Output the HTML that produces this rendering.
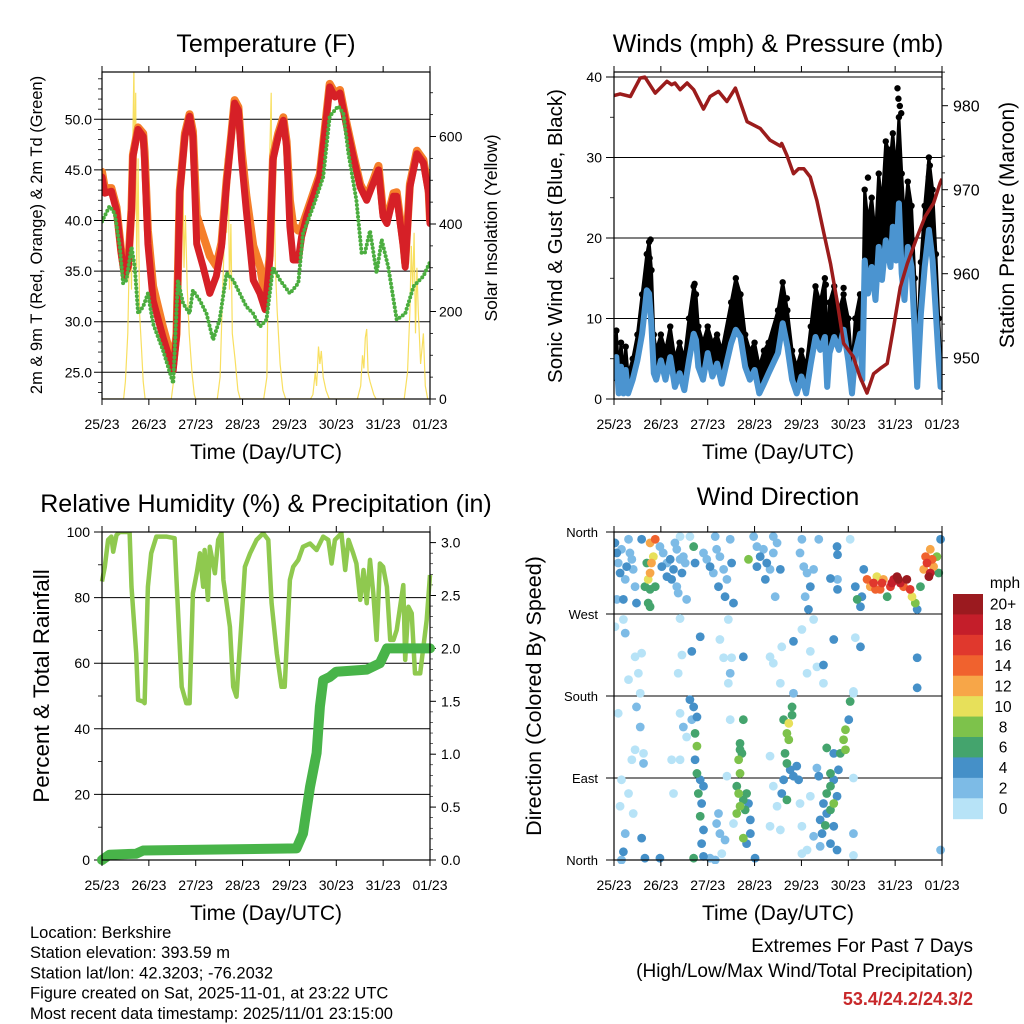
<!DOCTYPE html>
<html><head><meta charset="utf-8"><style>
html,body{margin:0;padding:0;background:#fff;}
svg{display:block;font-family:"Liberation Sans",sans-serif;}
</style></head><body>
<svg id="fig" width="1024" height="1024" viewBox="0 0 1024 1024" xmlns="http://www.w3.org/2000/svg"></svg>
<script>
// ---------- DATA ----------
const dayLabels=["25/23","26/23","27/23","28/23","29/23","30/23","31/23","01/23"];
const tempTimes=[0,.06,.20,.31,.41,.48,.56,.63,.66,.77,.88,.91,.98,1.09,1.30,1.52,1.59,1.66,1.77,1.87,1.94,2.02,2.16,2.30,2.44,2.55,2.66,2.76,2.83,2.91,2.98,3.08,3.23,3.37,3.48,3.58,3.65,3.76,3.87,3.94,4.01,4.08,4.19,4.26,4.37,4.65,4.86,4.97,5.08,5.22,5.36,5.51,5.65,5.79,5.90,6.00,6.08,6.22,6.29,6.43,6.47,6.57,6.72,6.86,6.97,7.00];
const temp2m=[44.3,42.7,42.9,41.0,36.8,34.5,35.4,41.0,46.3,49.0,48.3,46.0,37.7,32.1,28.5,25.2,28.5,42.7,48.3,50.3,48.3,37.7,35.4,32.8,34.5,37.4,43.7,48.3,51.6,50.9,46.0,41.0,34.1,32.8,31.2,36.1,46.0,48.3,49.9,47.3,39.4,36.1,36.1,38.4,40.4,44.3,53.2,52.2,52.6,49.3,46.3,43.3,42.0,43.7,45.0,40.4,39.7,42.4,42.4,37.4,35.4,43.3,46.6,45.7,42.7,39.7];
const temp9m=[44.8,43.2,43.2,41.3,37.0,34.8,35.6,41.2,46.5,49.2,48.6,46.8,39.0,33.5,29.5,25.8,28.8,43.0,48.6,50.5,48.8,40.5,38.5,36.5,35.5,37.8,44.0,48.5,51.9,51.2,47.0,42.5,37.5,35.5,32.5,36.5,46.3,48.6,50.2,47.8,42.0,39.5,39.0,39.3,40.8,44.6,53.5,52.6,52.9,49.6,46.6,43.6,42.3,44.0,45.4,40.8,40.0,42.7,42.8,37.8,35.8,43.6,46.9,46.0,43.0,40.0];
const dewTimes=[0,.16,.27,.38,.45,.52,.63,.70,.77,.88,.98,1.09,1.30,1.52,1.62,1.73,1.87,1.94,2.09,2.23,2.37,2.51,2.66,2.80,2.94,3.08,3.23,3.37,3.51,3.65,3.80,4.01,4.19,4.29,4.51,4.72,4.86,5.04,5.15,5.26,5.43,5.54,5.61,5.72,5.86,5.97,6.11,6.29,6.47,6.65,6.86,7.00];
const dewPoint=[39.9,41.4,40.7,37.4,33.8,34.1,37.4,35.4,30.8,31.5,32.8,29.8,27.2,23.9,34.1,31.8,30.8,33.1,32.1,30.8,28.2,30.2,34.8,34.1,32.8,31.5,30.8,29.5,30.2,35.4,34.1,32.8,33.8,38.7,41.4,44.3,50.3,51.3,50.6,46.6,42.0,36.8,36.8,39.0,34.8,38.1,35.4,30.2,30.8,33.5,34.5,35.9];
const solarTimes=[0,.46,.50,.55,.60,.63,.66,.68,.70,.72,.74,.77,.80,.84,.88,.92,1.48,1.55,1.60,1.64,1.68,1.72,1.75,1.78,1.82,1.86,1.92,1.97,2.0,2.46,2.52,2.56,2.60,2.63,2.66,2.69,2.72,2.75,2.78,2.84,2.90,2.95,3.45,3.52,3.55,3.58,3.61,3.63,3.66,3.70,3.74,3.80,3.86,3.92,4.45,4.50,4.55,4.58,4.62,4.65,4.68,4.72,4.78,4.85,5.45,5.52,5.56,5.59,5.62,5.65,5.68,5.72,5.80,5.85,6.45,6.52,6.57,6.60,6.63,6.66,6.69,6.72,6.75,6.80,6.86,6.90,6.95,7.0];
const solarVals=[0,0,40,150,420,250,600,760,500,700,300,550,200,120,40,0,0,60,200,380,480,560,300,420,250,150,60,10,0,0,50,200,330,550,380,580,250,400,150,90,20,0,0,50,300,550,700,400,580,300,200,80,20,0,0,10,60,30,120,80,110,50,20,0,0,30,100,70,140,160,60,40,10,0,0,60,200,350,250,380,150,300,200,80,150,30,0,0];
const windTimes=[0,.05,.1,.15,.2,.25,.3,.4,.5,.6,.7,.75,.8,.85,.9,1.0,1.1,1.2,1.3,1.4,1.5,1.6,1.7,1.75,1.8,1.9,2.0,2.1,2.2,2.3,2.5,2.6,2.7,2.8,2.9,3.0,3.1,3.2,3.3,3.5,3.6,3.7,3.8,3.9,4.0,4.1,4.2,4.3,4.4,4.5,4.55,4.6,4.7,4.8,4.9,5.0,5.08,5.15,5.25,5.3,5.35,5.42,5.5,5.58,5.65,5.72,5.8,5.9,5.95,6.02,6.08,6.14,6.2,6.27,6.35,6.42,6.47,6.55,6.63,6.72,6.8,6.87,6.93,6.97,7.0];
const windSpeed=[2.4,5.2,.7,4,.7,3.6,.7,2.4,4.8,8.1,13.5,13.1,9,3.2,2.4,4.8,2.4,5.2,1.5,3.2,1.1,4.8,8.1,7.3,4,2.4,5.7,2.8,4.4,1.9,6.9,8.6,7.7,4,2.4,3.6,.7,1.9,3.2,5.7,9.4,6.5,2.4,.7,2.8,.7,4.4,7.7,6.1,7.7,1.5,5.7,7.7,6.1,8.6,4.8,.7,5.7,8.1,2.4,17.2,13.1,16.4,12.3,18.9,14.8,19.7,16.4,21.4,17.2,24.3,15.6,12.3,18.9,16.4,8.1,1.5,10.6,16.4,21,17.2,10.6,4.8,1.5,3.2];
const windGust=[4,8.5,3,7,3,6.5,3,5,8,13,18,19.5,16,8,6,8,6,9,5,7,5,10,14,13,9,7,9,7,8,6,12,15,13,8,6,7,4,6,7,11,14.5,11,6,4,6,4,9,14,12,15,6,12,14,11,13,10,4,10,13,8,26,22,25,20,28,24,32,30,33,28,35,28,22,27,24,15,6,17,24,30,26,18,10,5,6];
const gustPeakTimes=[.78,.76,1.72,2.62,3.69,4.52,4.9,5.42,6.05,6.07,6.10,6.13,6.72,6.74,5.85];
const gustPeakVals=[19.8,17.5,14.3,13.5,12.5,14.2,13.8,27.5,38.6,37.3,36.4,35.5,27.6,29,31];
const presTimes=[0,.13,.35,.56,.66,.88,1.13,1.23,1.30,1.41,1.56,1.70,1.91,2.05,2.23,2.41,2.59,2.84,3.12,3.33,3.55,3.58,3.69,3.83,3.94,4.05,4.19,4.33,4.48,4.62,4.76,4.90,5.11,5.25,5.40,5.54,5.68,5.83,5.97,6.11,6.26,6.47,6.64,6.82,6.96,7.00];
const presVals=[981.2,981.4,981.1,983.3,983.4,981.5,982.9,982.5,982.7,981.9,982.7,981.9,979.6,981.1,981.7,980.5,982.1,978.1,977.3,975.9,975.2,975.5,974.1,971.9,972.5,972.5,971.5,968.7,964.8,961.2,956.8,951.7,950.1,947.7,945.8,948.1,948.7,949.3,953.7,958.4,961.2,964.4,966.8,968.4,970.8,971.3];
const rhTimes=[0,.06,.13,.2,.24,.31,.38,.59,.63,.73,.77,.88,.91,.98,1.05,1.16,1.37,1.55,1.59,1.7,1.8,1.87,1.94,2.02,2.09,2.16,2.19,2.26,2.3,2.41,2.48,2.55,2.59,2.73,2.8,2.87,2.98,3.05,3.16,3.3,3.44,3.55,3.62,3.73,3.83,3.9,4.01,4.08,4.19,4.29,4.44,4.58,4.72,4.83,4.9,4.97,5.11,5.19,5.26,5.36,5.43,5.51,5.58,5.65,5.72,5.79,5.86,5.93,6.0,6.08,6.15,6.22,6.29,6.43,6.47,6.54,6.61,6.68,6.79,6.86,6.93,7.0];
const rhVals=[84.9,89.4,97.6,98.6,94.0,99.1,100,100,83.3,63,48.8,48.3,47.8,83.3,93.5,98.6,98.6,98.1,85.4,52.8,47.8,47.8,81.3,87.4,93.5,83.3,94.5,79.3,95.5,87.4,97.6,99.6,85.4,71.1,52.8,49.8,73.2,89.4,93.5,97.6,99.6,97.6,78.3,63,52.8,52.8,85.4,89.4,91.5,95.5,96.5,94.5,98.6,97.6,90.4,97.6,99.6,88.4,97.6,93.5,90.4,79.3,88.4,78.3,91.5,81.3,67.1,90.4,89.4,83.3,67.1,67.1,70.1,83.8,61,77.2,75.2,56.9,56.9,65,73.2,86.9];
const rainTimes=[0,.16,.73,.88,4.15,4.29,4.44,4.58,4.65,4.72,4.86,5.0,5.65,5.93,6.08,7.0];
const rainVals=[0,.05,.06,.09,.11,.25,.69,1.01,1.45,1.70,1.73,1.78,1.80,1.86,2.0,2.0];
const dirTimes=[.02,.06,.09,.13,.16,.24,.31,.38,.41,.06,.2,.45,.27,.34,.48,
.77,.8,.84,.77,.73,.7,.66,.77,.88,.73,.77,.59,.88,
.98,1.05,1.13,1.2,1.27,1.34,1.41,1.48,1.23,1.34,1.13,1.02,1.45,1.52,1.3,1.41,1.62,1.37,1.55,
1.7,1.73,1.98,2.05,2.12,2.19,2.26,2.34,2.41,2.51,2.23,2.37,2.48,2.16,2.55,1.91,
2.98,3.05,3.12,3.19,3.26,3.33,3.4,3.48,3.23,3.05,3.55,3.4,2.87,3.44,
3.97,4.05,4.12,4.19,4.08,4.01,4.26,4.15,4.37,
4.62,4.77,4.76,4.77,4.77,5.04,
5.15,5.19,5.26,5.33,5.4,5.47,5.54,5.61,5.68,5.75,5.83,5.9,5.97,6.04,6.11,6.18,6.25,6.32,6.36,6.43,6.47,6.54,6.61,6.68,6.72,6.75,6.79,6.82,6.89,6.97,6.93,6.65,6.75,5.29,5.93,6.07,5.58,5.72,
.02,.24,.45,.59,.52,1.41,1.84,1.45,1.66,1.37,2.44,2.26,2.34,2.51,2.76,2.48,2.44,3.33,3.4,3.58,3.55,4.01,4.19,4.12,4.33,4.47,4.47,4.69,5.15,5.26,6.47,6.47,5.11,4.26,3.83,.2,
.09,.31,.48,.56,.45,.63,.16,.31,.13,.24,.59,.2,.41,.56,.38,.63,
1.41,1.62,1.7,1.77,1.73,1.77,1.73,1.77,1.84,1.8,1.87,1.84,1.91,1.87,1.91,1.48,1.55,1.41,1.66,1.91,1.23,1.27,2.05,1.7,
2.69,2.73,2.66,2.69,2.62,2.66,2.76,2.69,2.83,2.87,2.62,2.8,2.91,2.91,2.83,2.76,2.23,2.19,2.26,2.37,2.3,2.41,2.55,2.69,2.76,2.48,
3.83,3.8,3.73,3.69,3.73,3.65,3.69,3.76,3.83,3.9,3.94,3.62,3.58,3.69,3.62,3.8,3.33,3.4,3.48,3.97,4.01,4.12,4.01,3.33,3.55,
5.04,5.01,4.94,4.9,4.94,4.83,4.79,4.69,4.62,4.54,4.47,4.54,4.62,4.69,4.76,4.4,4.51,4.44,4.62,4.76,4.37,4.54,4.4,4.26,4.19,5.11,5.11,5.11,5.11,4.69,4.33,4.69,4.62,
6.97,.98,.66,.16,2.16,3.01];
const dirVals=[348,337,326,315,341,308,352,330,319,286,286,300,322,337,282,
348,326,333,315,308,326,300,297,300,282,278,352,352,
344,337,326,330,319,341,330,333,308,300,311,322,315,326,348,355,355,293,286,
344,326,330,322,315,341,333,319,308,326,300,289,352,355,282,337,
355,344,333,341,326,319,337,348,308,322,319,355,330,289,
337,322,315,300,289,352,319,275,352,
309,308,344,335,297,352,
300,286,278,319,308,300,304,311,297,308,289,300,308,311,304,300,308,297,289,282,275,300,319,326,311,315,330,322,333,352,315,333,341,289,304,308,297,304,
256,249,223,227,205,265,245,225,229,205,264,242,222,222,223,205,194,223,216,234,194,253,229,205,212,214,194,242,244,234,222,189,185,264,240,264,
161,198,168,146,121,106,88,73,59,29,24,9,51,183,110,117,
161,176,168,157,139,125,110,95,88,73,62,48,33,18,4,146,135,110,154,81,110,73,2,2,
128,117,110,95,81,73,66,59,73,62,51,55,44,29,18,24,51,40,29,22,7,92,40,121,154,154,
183,168,150,139,132,117,106,99,92,103,88,88,73,66,154,159,114,81,59,62,37,11,7,37,33,
174,154,143,132,121,117,99,88,81,73,62,51,55,62,70,44,38,29,18,11,92,123,15,26,70,183,90,29,5,117,101,37,95,
11,2,2,0,0,2];
const dirSpeeds=[4,4,2,4,2,2,2,2,2,2,4,2,4,2,4,
12,12,10,12,10,6,6,6,6,6,6,4,14,
2,2,2,4,4,2,2,2,4,2,4,4,4,2,2,0,0,2,2,
6,4,2,4,2,2,2,2,2,4,4,4,2,2,4,2,
2,2,4,2,4,2,2,2,4,4,4,2,8,2,
2,2,2,4,2,2,2,4,2,
4,2,4,4,4,0,
4,6,4,4,14,12,16,10,14,12,6,16,18,20,18,14,20,16,10,8,4,6,12,16,20,18,14,12,8,4,6,14,12,4,18,20,14,16,
0,2,0,0,0,0,4,0,4,0,0,0,0,0,4,2,0,0,0,0,0,0,0,0,0,4,0,4,0,4,4,4,0,0,4,0,
0,0,2,2,0,2,0,0,0,2,4,4,0,0,0,0,
0,4,4,4,6,8,4,6,4,6,4,6,4,4,4,2,0,0,2,4,0,0,2,6,
6,6,8,8,6,8,6,8,6,4,8,6,4,4,4,8,2,2,2,2,0,0,0,6,6,0,
2,6,10,8,8,6,6,4,4,4,4,4,4,6,6,6,0,0,0,0,0,0,0,0,0,
6,4,8,8,8,6,4,4,6,6,4,4,6,8,4,4,6,4,4,4,4,6,2,2,0,0,0,2,0,4,2,4,6,
2,4,4,2,2,4];
const speedBins=["0","2","4","6","8","10","12","14","16","18","20+"];
const speedColors=["#b7e3f7","#7dbbe6","#4590c8","#44a46d","#7dc24b","#e7e05a","#f7a648","#f0622e","#e0382d","#c41e2a","#9b1a1f"];

// ---------- HELPERS ----------
const NS="http://www.w3.org/2000/svg";
const svg=document.getElementById('fig');
function mk(tag,attrs,parent){const e=document.createElementNS(NS,tag);for(const k in attrs)e.setAttribute(k,attrs[k]);(parent||svg).appendChild(e);return e;}
function txt(s,x,y,size,anchor,parent,extra){const e=mk('text',Object.assign({x:x,y:y,'font-size':size,'text-anchor':anchor||'middle',fill:'#000'},extra||{}),parent);e.textContent=s;return e;}
function pathFrom(ts,vs,fx,fy){let d='';for(let i=0;i<ts.length;i++){d+=(i?'L':'M')+fx(ts[i]).toFixed(1)+','+fy(vs[i]).toFixed(1);}return d;}
const PW=328, TICK=14, AXT=21, TITLE=25;
function frame(name){
  const g=mk('g',{});
  
  
  return g;
}
function xAxis(g,x0,y0,y1,labY,titleY,nm){
  for(let i=0;i<8;i++){const x=x0+i*PW/7;
    const t1=mk('line',{x1:x,y1:y1,x2:x,y2:y1+6,stroke:'#000','stroke-width':1},g);
    
    
    mk('line',{x1:x,y1:y0,x2:x,y2:y0-6,stroke:'#000','stroke-width':1},g);
    const l=txt(dayLabels[i],x,labY,TICK,'middle',g);
    
    
  }
  const t=txt('Time (Day/UTC)',x0+PW/2,titleY,AXT,'middle',g);
  
  
}
function box(g,x0,y0,x1,y1){const r=mk('rect',{x:x0,y:y0,width:x1-x0,height:y1-y0,fill:'none',stroke:'#000','stroke-width':1.2},g);}

// ---------- PANEL 1: TEMPERATURE ----------
(function(){
  const x0=102,x1=430,y0=72,y1=399;
  const g=frame('temperature-panel');
  const X=t=>x0+t*PW/7, Y=v=>372.3-(v-25)*10.12, YS=s=>399-s*0.4375;
  [25,30,35,40,45,50].forEach(v=>{const gl=mk('line',{x1:x0-8,y1:Y(v),x2:x1,y2:Y(v),stroke:'#000','stroke-width':1},g);
    const l=txt(v.toFixed(1),x0-10,Y(v)+5,TICK,'end',g);});
  for(let v=23;v<=55;v++){if(v%5)mk('line',{x1:x0-4,y1:Y(v),x2:x0,y2:Y(v),stroke:'#000','stroke-width':0.8},g);}
  [0,200,400,600].forEach(s=>{mk('line',{x1:x1,y1:YS(s),x2:x1+6,y2:YS(s),stroke:'#000'},g);const l=txt(String(s),x1+9,YS(s)+5,TICK,'start',g);});
  for(let s=50;s<750;s+=50){if(s%200)mk('line',{x1:x1,y1:YS(s),x2:x1+3,y2:YS(s),stroke:'#000','stroke-width':0.8},g);}
  const clip=mk('clipPath',{id:'c1'},g);mk('rect',{x:x0,y:y0,width:PW,height:y1-y0},clip);
  const sg=mk('g',{'clip-path':'url(#c1)'},g);
  const sol=mk('path',{d:pathFrom(solarTimes,solarVals,X,YS),fill:'none',stroke:'#f7dc4f','stroke-width':1.2,opacity:0.9},sg);
  
  
  const o=mk('path',{d:pathFrom(tempTimes,temp9m,X,Y),fill:'none',stroke:'#f57f2a','stroke-width':8,'stroke-linejoin':'round','stroke-linecap':'round'},sg);
  
  
  const r=mk('path',{d:pathFrom(tempTimes,temp2m,X,Y),fill:'none',stroke:'#d62027','stroke-width':7,'stroke-linejoin':'round','stroke-linecap':'round'},sg);
  
  
  const d=mk('path',{d:pathFrom(dewTimes,dewPoint,X,Y),fill:'none',stroke:'#4bad3f','stroke-width':4,'stroke-dasharray':'0 4','stroke-linecap':'round'},sg);
  
  
  box(g,x0,y0,x1,y1);
  xAxis(g,x0,y0,y1,429,459,'x-axis-title');
  const t=txt('Temperature (F)',266,52,TITLE,'middle',g);
  const yl=txt('2m & 9m T (Red, Orange) & 2m Td (Green)',0,0,16.5,'middle',g,{transform:'translate(42,235) rotate(-90)'});
  const yr=txt('Solar Insolation (Yellow)',0,0,17.5,'middle',g,{transform:'translate(497,228) rotate(-90)'});
})();

// ---------- PANEL 2: WINDS & PRESSURE ----------
(function(){
  const x0=614,x1=942,y0=72,y1=399;
  const g=frame('winds-panel');
  const X=t=>x0+t*PW/7, Y=v=>399-v*8.05, YP=p=>357.7-(p-950)*8.4;
  [0,10,20,30,40].forEach(v=>{if(v>0){const gl=mk('line',{x1:x0-8,y1:Y(v),x2:x1,y2:Y(v),stroke:'#000','stroke-width':1},g);}
    else mk('line',{x1:x0-8,y1:Y(v),x2:x0,y2:Y(v),stroke:'#000'},g);
    const l=txt(String(v),x0-12,Y(v)+5,TICK,'end',g);});
  for(let v=5;v<=40;v+=10)mk('line',{x1:x0-4,y1:Y(v),x2:x0,y2:Y(v),stroke:'#000','stroke-width':0.8},g);
  [950,960,970,980].forEach(p=>{mk('line',{x1:x1,y1:YP(p),x2:x1+6,y2:YP(p),stroke:'#000'},g);const l=txt(String(p),x1+11,YP(p)+6,16,'start',g);});
  for(let p=946;p<=984;p+=2){if(p%10)mk('line',{x1:x1,y1:YP(p),x2:x1+3,y2:YP(p),stroke:'#000','stroke-width':0.8},g);}
  const clip=mk('clipPath',{id:'c2'},g);mk('rect',{x:x0,y:y0,width:PW,height:y1-y0},clip);
  const sg=mk('g',{'clip-path':'url(#c2)'},g);
  // black gust cloud: area between gust and sustained speed
  let ad='';
  for(let i=0;i<windTimes.length;i++)ad+=(i?'L':'M')+X(windTimes[i]).toFixed(1)+','+Y(windGust[i]).toFixed(1);
  for(let i=windTimes.length-1;i>=0;i--)ad+='L'+X(windTimes[i]).toFixed(1)+','+Y(windSpeed[i]).toFixed(1);
  const ga=mk('path',{d:ad+'Z',fill:'#000',stroke:'#000','stroke-width':3,'stroke-linejoin':'round'},sg);
  
  
  for(let i=0;i<windTimes.length;i++){const c=mk('circle',{cx:X(windTimes[i]),cy:Y(windGust[i]),r:3.2,fill:'#000'},sg);
    
    }
  for(let i=0;i<gustPeakTimes.length;i++){const c=mk('circle',{cx:X(gustPeakTimes[i]),cy:Y(gustPeakVals[i]),r:3.2,fill:'#000'},sg);
    
    }
  const b=mk('path',{d:pathFrom(windTimes,windSpeed,X,Y),fill:'none',stroke:'#4b94d0','stroke-width':6,'stroke-linejoin':'round'},sg);
  
  
  const p=mk('path',{d:pathFrom(presTimes,presVals,X,YP),fill:'none',stroke:'#9b1c1c','stroke-width':3.5,'stroke-linejoin':'round'},sg);
  
  
  box(g,x0,y0,x1,y1);
  xAxis(g,x0,y0,y1,429,459,'x-axis-title');
  const t=txt('Winds (mph) & Pressure (mb)',778,52,TITLE,'middle',g);
  const yl=txt('Sonic Wind & Gust (Blue, Black)',0,0,20.5,'middle',g,{transform:'translate(562,236) rotate(-90)'});
  const yr=txt('Station Pressure (Maroon)',0,0,21,'middle',g,{transform:'translate(1014,225) rotate(-90)'});
})();

// ---------- PANEL 3: RH & PRECIP ----------
(function(){
  const x0=102,x1=430,y0=532,y1=860;
  const g=frame('humidity-panel');
  const X=t=>x0+t*PW/7, Y=v=>860-v*3.28, YR=p=>860-p*105.8;
  [0,20,40,60,80,100].forEach(v=>{if(v>0&&v<100){const gl=mk('line',{x1:x0-8,y1:Y(v),x2:x1,y2:Y(v),stroke:'#000','stroke-width':1},g);}
    else mk('line',{x1:x0-8,y1:Y(v),x2:x0,y2:Y(v),stroke:'#000'},g);
    const l=txt(String(v),x0-12,Y(v)+5,TICK,'end',g);});
  for(let v=10;v<100;v+=20)mk('line',{x1:x0-4,y1:Y(v),x2:x0,y2:Y(v),stroke:'#000','stroke-width':0.8},g);
  [0,.5,1,1.5,2,2.5,3].forEach(p=>{mk('line',{x1:x1,y1:YR(p),x2:x1+6,y2:YR(p),stroke:'#000'},g);const l=txt(p.toFixed(1),x1+11,YR(p)+5,TICK,'start',g);});
  for(let p=.1;p<3.05;p+=.1){mk('line',{x1:x1,y1:YR(p),x2:x1+3,y2:YR(p),stroke:'#000','stroke-width':0.6},g);}
  const clip=mk('clipPath',{id:'c3'},g);mk('rect',{x:x0-6,y:y0,width:PW+12,height:y1-y0+6},clip);
  const sg=mk('g',{'clip-path':'url(#c3)'},g);
  const rh=mk('path',{d:pathFrom(rhTimes,rhVals,X,Y),fill:'none',stroke:'#8fc94f','stroke-width':4.5,'stroke-linejoin':'round'},sg);
  
  
  const pr=mk('path',{d:pathFrom(rainTimes,rainVals,X,YR),fill:'none',stroke:'#48b449','stroke-width':10,'stroke-linejoin':'round','stroke-linecap':'round'},sg);
  
  
  box(g,x0,y0,x1,y1);
  xAxis(g,x0,y0,y1,890,920,'x-axis-title');
  const t=txt('Relative Humidity (%) & Precipitation (in)',266,512,TITLE,'middle',g);
  const yl=txt('Percent & Total Rainfall',0,0,22.5,'middle',g,{transform:'translate(49,686) rotate(-90)'});
})();

// ---------- PANEL 4: WIND DIRECTION ----------
(function(){
  const x0=614,x1=942,y0=532,y1=860;
  const g=frame('wind-direction-panel');
  const X=t=>x0+t*PW/7, Y=d=>860-d*PW/360;
  const dirNames=["North","East","South","West","North"];
  [0,90,180,270,360].forEach((d,i)=>{if(d>0&&d<360){const gl=mk('line',{x1:x0-8,y1:Y(d),x2:x1,y2:Y(d),stroke:'#000','stroke-width':1},g);}
    else mk('line',{x1:x0-8,y1:Y(d),x2:x0,y2:Y(d),stroke:'#000'},g);
    const l=txt(dirNames[i],x0-16,Y(d)+5,13,'end',g);});
  const clip=mk('clipPath',{id:'c4'},g);mk('rect',{x:x0,y:y0-4,width:PW+4,height:y1-y0+8},clip);
  const sg=mk('g',{'clip-path':'url(#c4)'},g);
  const order=dirSpeeds.map((s,i)=>i).sort((a,b)=>dirSpeeds[a]-dirSpeeds[b]);
  order.forEach(i=>{const bin=Math.min(10,Math.floor(dirSpeeds[i]/2));
    const c=mk('circle',{cx:X(dirTimes[i]),cy:Y(dirVals[i]),r:4.4,fill:speedColors[bin]},sg);
    
    });
  box(g,x0,y0,x1,y1);
  xAxis(g,x0,y0,y1,890,920,'x-axis-title');
  const t=txt('Wind Direction',778,505,TITLE,'middle',g);
  const yl=txt('Direction (Colored By Speed)',0,0,21.5,'middle',g,{transform:'translate(541,696) rotate(-90)'});
  const cb=mk('g',{},g);
  
  
  const bh=(818.7-594)/11;
  for(let i=0;i<11;i++){const k=10-i;const y=594+i*bh;
    const r=mk('rect',{x:953,y:y,width:30,height:bh+0.5,fill:speedColors[k]},cb);
    
    
    const l=txt(speedBins[k],1003,y+bh/2+5.5,15.5,'middle',cb);
    
    }
  const u=txt('mph',1005,588,15.5,'middle',cb);
})();

// ---------- FOOTER ----------
(function(){
  const lines=["Location: Berkshire","Station elevation: 393.59 m","Station lat/lon: 42.3203; -76.2032","Figure created on Sat, 2025-11-01, at 23:22 UTC","Most recent data timestamp: 2025/11/01 23:15:00"];
  lines.forEach((s,i)=>{const t=txt(s,30,938+i*20.2,16.5,'start');});
  const a=txt('Extremes For Past 7 Days',973,952,19,'end');
  const b=txt('(High/Low/Max Wind/Total Precipitation)',973,977,19,'end');
  const c=txt('53.4/24.2/24.3/2',973,1005,18,'end',null,{fill:'#c8282a','font-weight':'bold'});
})();
</script>
</body></html>
